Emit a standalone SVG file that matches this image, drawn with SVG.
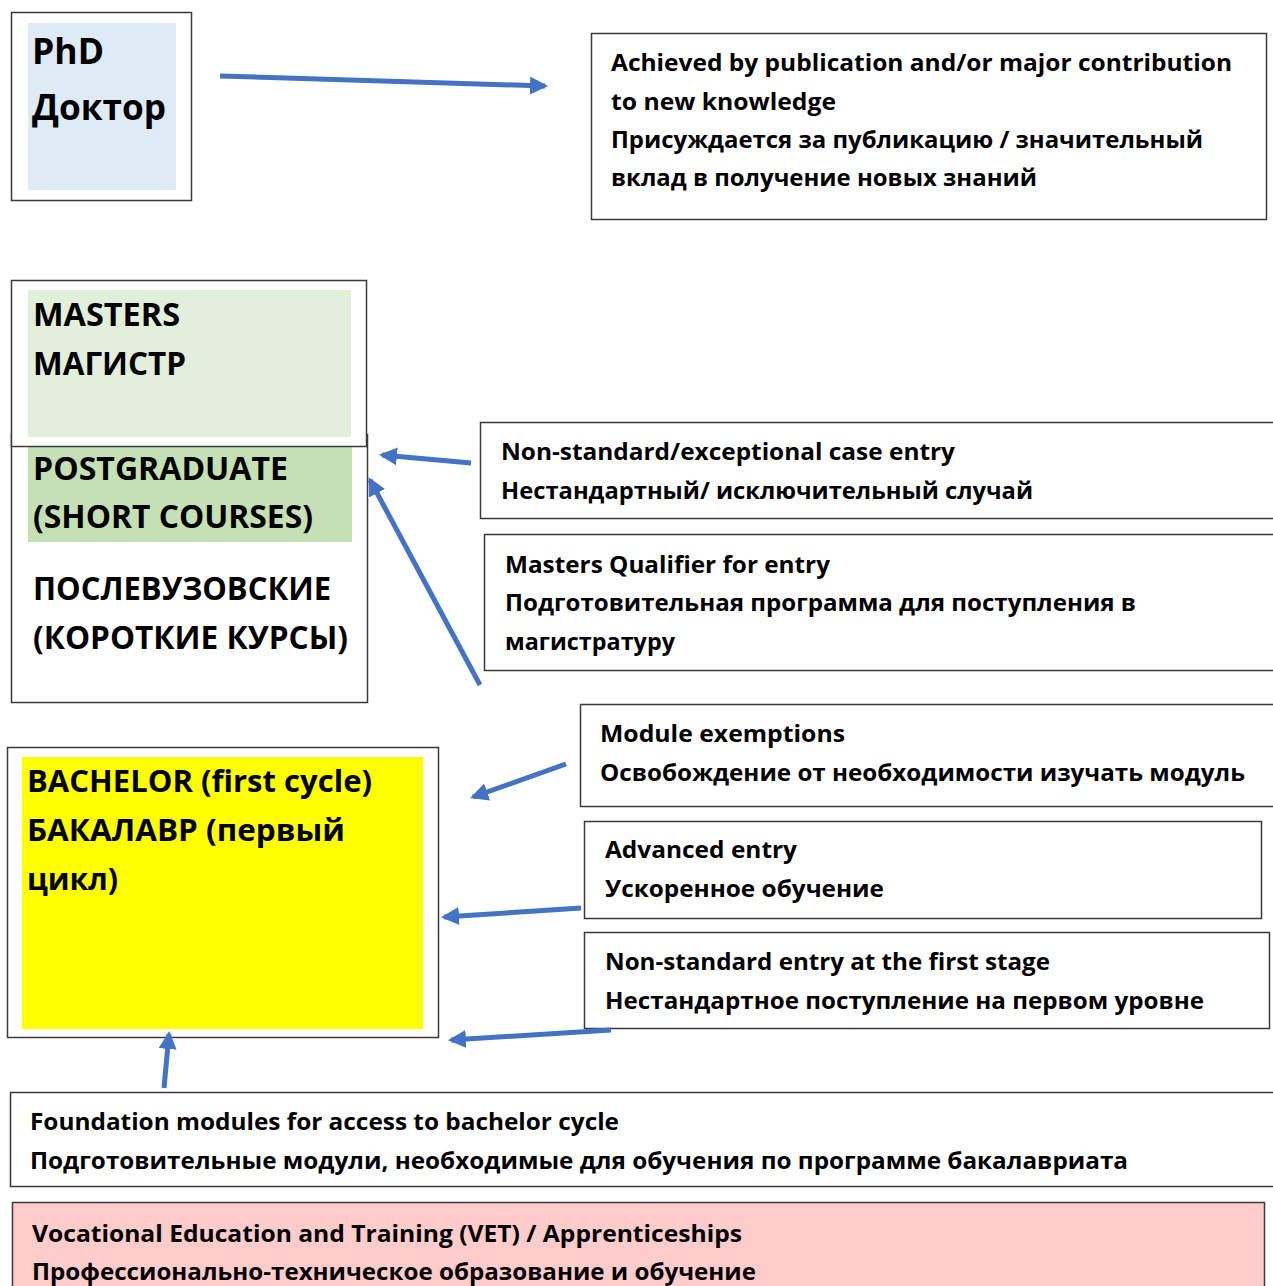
<svg xmlns="http://www.w3.org/2000/svg" width="1273" height="1286" viewBox="0 0 1273 1286">
<style>
.box{fill:#fff;stroke:#3a3a3a;stroke-width:1.5}
.t{font-family:"Open Sans","Liberation Sans",sans-serif;font-weight:bold;fill:#000}
.s{font-size:23px}
.l{font-size:32px}
.conn{stroke:#4472C4;stroke-width:5;fill:none;marker-end:url(#ah)}
</style>
<defs>
<marker id="ah" markerUnits="userSpaceOnUse" viewBox="0 0 18 18" markerWidth="18" markerHeight="18" refX="15" refY="9" orient="auto">
<path d="M0,0 L18,9 L0,18 z" fill="#4472C4"/>
</marker>
</defs>
<rect width="1273" height="1286" fill="#fff"/>

<g id="phd">
<rect class="box" x="11.5" y="12.5" width="180" height="188"/>
<rect x="28" y="23" width="148" height="167" fill="#DEEAF6"/>
<text class="t" x="32" y="64" font-size="36" textLength="72" lengthAdjust="spacingAndGlyphs">PhD</text>
<text class="t" x="32" y="120" font-size="36" textLength="134" lengthAdjust="spacingAndGlyphs">Доктор</text>
</g>

<g id="phd-desc">
<rect class="box" x="591.5" y="33.5" width="675" height="186"/>
<text class="t s" x="611" y="71" textLength="621" lengthAdjust="spacingAndGlyphs">Achieved by publication and/or major contribution</text>
<text class="t s" x="611" y="110" textLength="225" lengthAdjust="spacingAndGlyphs">to new knowledge</text>
<text class="t s" x="611" y="148" textLength="592" lengthAdjust="spacingAndGlyphs">Присуждается за публикацию / значительный</text>
<text class="t s" x="611" y="186" textLength="426" lengthAdjust="spacingAndGlyphs">вклад в получение новых знаний</text>
</g>

<g id="postgraduate">
<rect class="box" x="11.5" y="434.5" width="356" height="268"/>
<rect x="28" y="447" width="324" height="95" fill="#C5E0B4"/>
<text class="t l" x="33" y="480" textLength="255" lengthAdjust="spacingAndGlyphs">POSTGRADUATE</text>
<text class="t l" x="33" y="528" textLength="280" lengthAdjust="spacingAndGlyphs">(SHORT COURSES)</text>
<text class="t l" x="33" y="600" textLength="298" lengthAdjust="spacingAndGlyphs">ПОСЛЕВУЗОВСКИЕ</text>
<text class="t l" x="33" y="649" textLength="315" lengthAdjust="spacingAndGlyphs">(КОРОТКИЕ КУРСЫ)</text>
</g>

<g id="masters">
<rect class="box" x="11.5" y="280.5" width="355" height="166"/>
<rect x="28" y="290" width="323" height="147" fill="#E2EFDA"/>
<text class="t l" x="33" y="326" textLength="147" lengthAdjust="spacingAndGlyphs">MASTERS</text>
<text class="t l" x="33" y="375" textLength="153" lengthAdjust="spacingAndGlyphs">МАГИСТР</text>
</g>

<g id="nonstandard-exceptional">
<rect class="box" x="480.5" y="422.5" width="800" height="96"/>
<text class="t s" x="501" y="460" textLength="454" lengthAdjust="spacingAndGlyphs">Non-standard/exceptional case entry</text>
<text class="t s" x="501" y="499" textLength="532" lengthAdjust="spacingAndGlyphs">Нестандартный/ исключительный случай</text>
</g>

<g id="masters-qualifier">
<rect class="box" x="484.5" y="534.5" width="800" height="136"/>
<text class="t s" x="505" y="573" textLength="325" lengthAdjust="spacingAndGlyphs">Masters Qualifier for entry</text>
<text class="t s" x="505" y="611" textLength="631" lengthAdjust="spacingAndGlyphs">Подготовительная программа для поступления в</text>
<text class="t s" x="505" y="650" textLength="170" lengthAdjust="spacingAndGlyphs">магистратуру</text>
</g>

<g id="module-exemptions">
<rect class="box" x="580.5" y="704.5" width="700" height="102"/>
<text class="t s" x="600" y="742" textLength="245" lengthAdjust="spacingAndGlyphs">Module exemptions</text>
<text class="t s" x="600" y="781" textLength="645" lengthAdjust="spacingAndGlyphs">Освобождение от необходимости изучать модуль</text>
</g>

<g id="advanced-entry">
<rect class="box" x="584.5" y="821.5" width="677" height="97"/>
<text class="t s" x="605" y="858" textLength="192" lengthAdjust="spacingAndGlyphs">Advanced entry</text>
<text class="t s" x="605" y="897" textLength="279" lengthAdjust="spacingAndGlyphs">Ускоренное обучение</text>
</g>

<g id="nonstandard-first">
<rect class="box" x="584.5" y="932.5" width="685" height="96"/>
<text class="t s" x="605" y="970" textLength="445" lengthAdjust="spacingAndGlyphs">Non-standard entry at the first stage</text>
<text class="t s" x="605" y="1009" textLength="599" lengthAdjust="spacingAndGlyphs">Нестандартное поступление на первом уровне</text>
</g>

<g id="bachelor">
<rect class="box" x="7.5" y="747.5" width="431" height="290"/>
<rect x="22" y="757" width="401" height="272" fill="#FFFF00"/>
<text class="t" x="27" y="792" font-size="31" textLength="345" lengthAdjust="spacingAndGlyphs">BACHELOR (first cycle)</text>
<text class="t" x="27" y="841" font-size="31" textLength="318" lengthAdjust="spacingAndGlyphs">БАКАЛАВР (первый</text>
<text class="t" x="27" y="890" font-size="31" textLength="91" lengthAdjust="spacingAndGlyphs">цикл)</text>
</g>

<g id="foundation">
<rect class="box" x="10.5" y="1092.5" width="1270" height="94"/>
<text class="t s" x="30" y="1130" textLength="589" lengthAdjust="spacingAndGlyphs">Foundation modules for access to bachelor cycle</text>
<text class="t s" x="30" y="1169" textLength="1098" lengthAdjust="spacingAndGlyphs">Подготовительные модули, необходимые для обучения по программе бакалавриата</text>
</g>

<g id="vet">
<rect x="12.5" y="1202.5" width="1252" height="100" fill="#FFCCCC" stroke="#3a3a3a" stroke-width="1.5"/>
<text class="t s" x="32" y="1242" textLength="710" lengthAdjust="spacingAndGlyphs">Vocational Education and Training (VET) / Apprenticeships</text>
<text class="t s" x="32" y="1280" textLength="724" lengthAdjust="spacingAndGlyphs">Профессионально-техническое образование и обучение</text>
</g>

<g id="connectors">
<line class="conn" x1="220" y1="76" x2="545" y2="86"/>
<line class="conn" x1="471" y1="463" x2="382" y2="455"/>
<line class="conn" x1="480" y1="685" x2="370" y2="480"/>
<line class="conn" x1="566" y1="764" x2="473" y2="797"/>
<line class="conn" x1="581" y1="908" x2="444" y2="917"/>
<line class="conn" x1="611" y1="1030" x2="451" y2="1040"/>
<line class="conn" x1="164" y1="1088" x2="169" y2="1034"/>
</g>
</svg>
